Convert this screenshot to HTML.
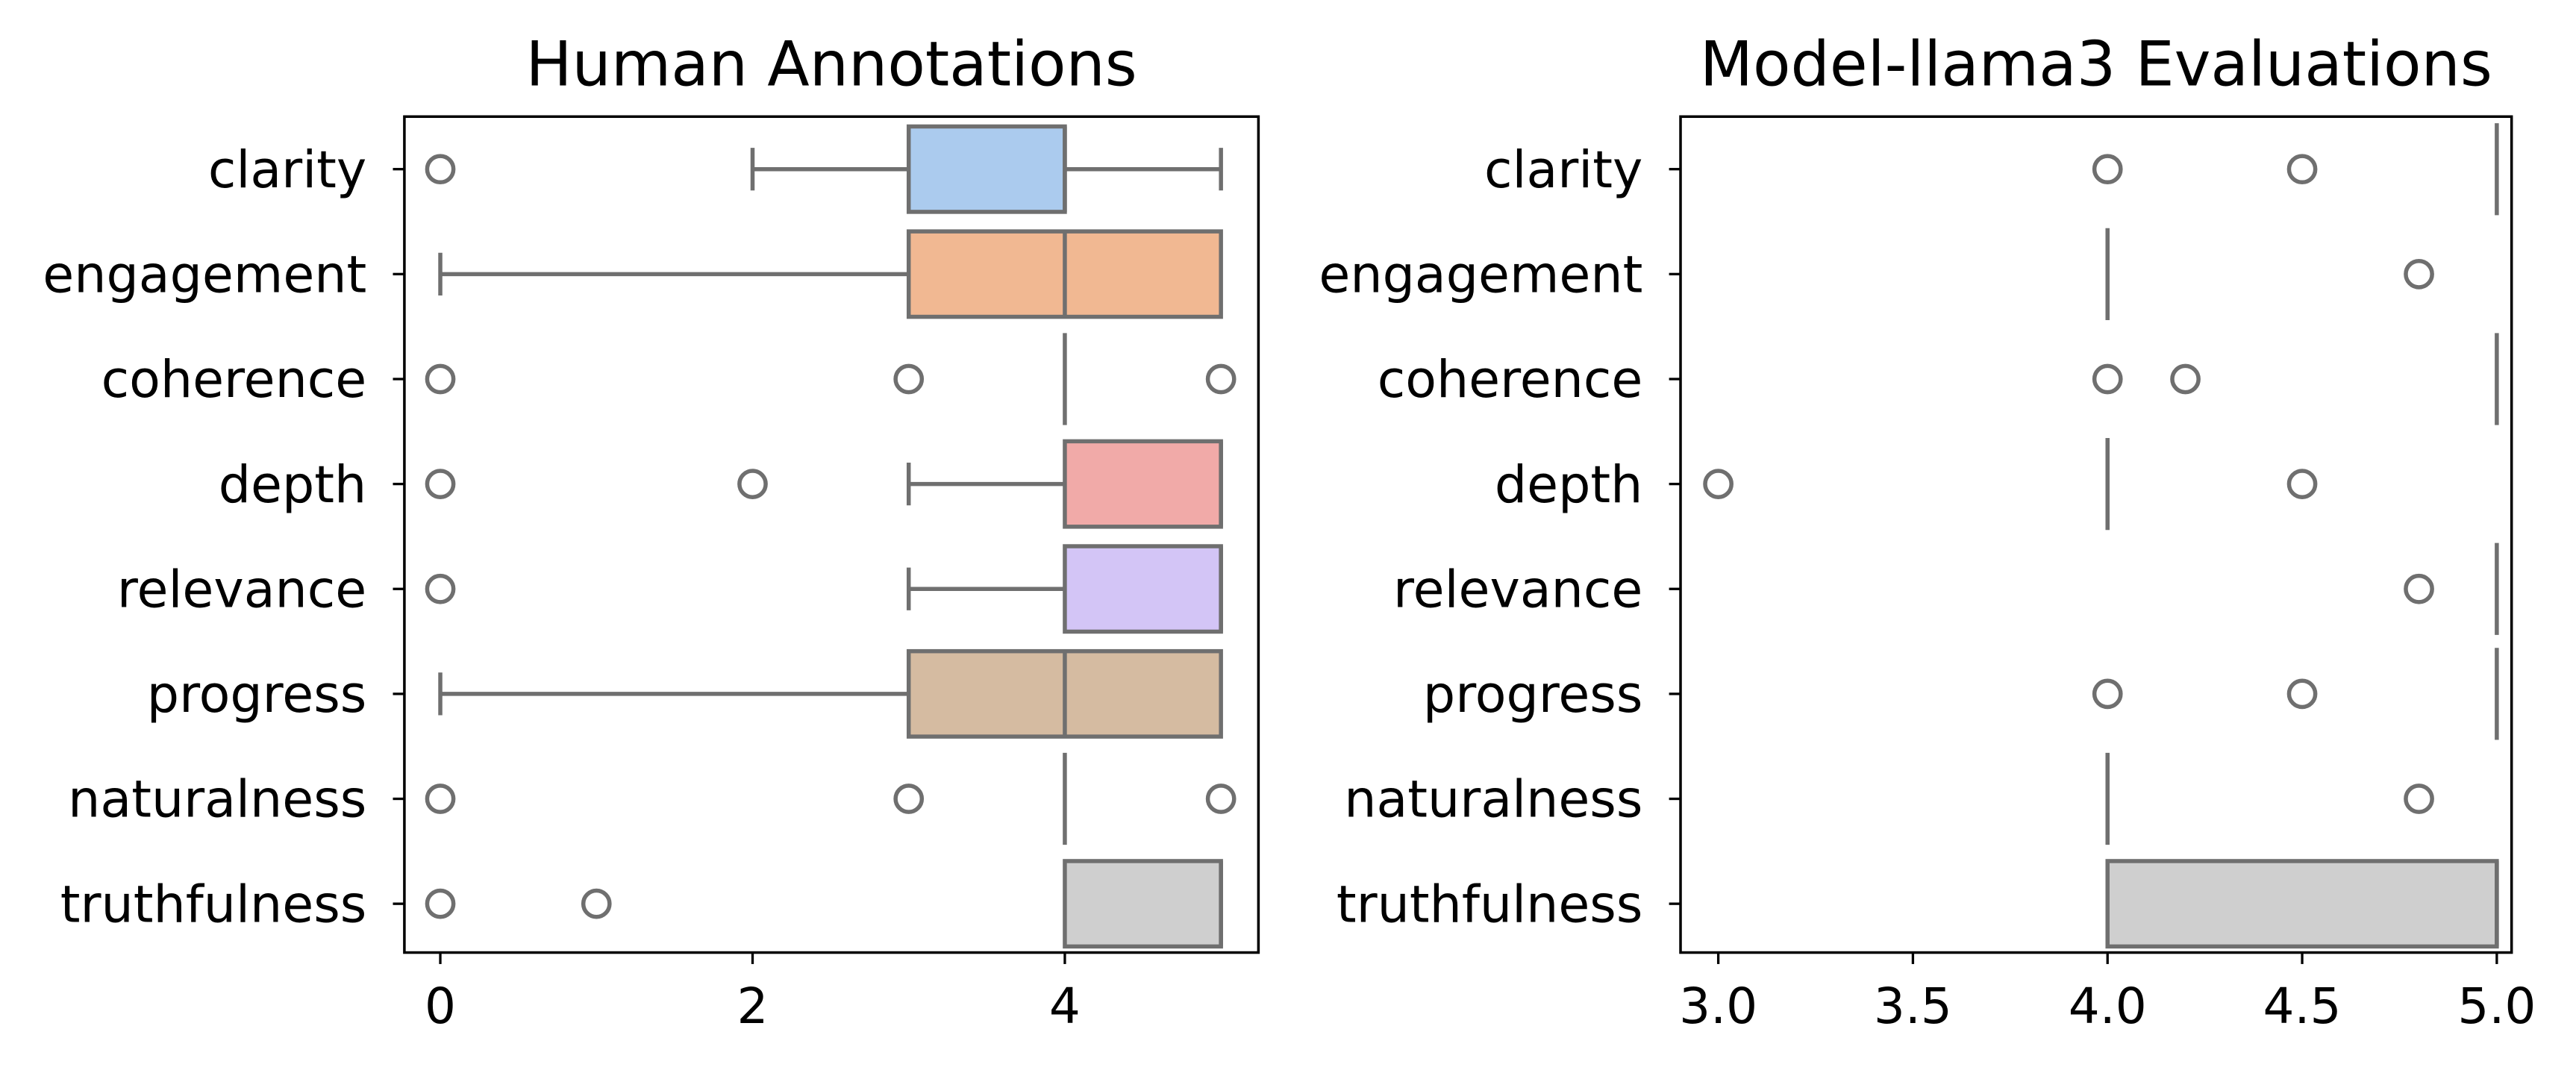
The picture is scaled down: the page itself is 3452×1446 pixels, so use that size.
<!DOCTYPE html>
<html><head><meta charset="utf-8"><style>
html,body{margin:0;padding:0;background:#fff}
svg{display:block}
text{font-family:"DejaVu Sans","Liberation Sans",sans-serif;fill:#000}
</style></head><body>
<svg id="chart" width="3452" height="1446" viewBox="0 0 1568 657" xmlns="http://www.w3.org/2000/svg"></svg>
<script>
const categories = ["clarity","engagement","coherence","depth","relevance","progress","naturalness","truthfulness"];
const colors = ["#abcbee","#f1b892","#9fd9ac","#f1aaa8","#d3c5f6","#d5bba1","#ecb5dc","#cfcfcf"];
// Human annotations
const humanQ1 = [3,3,4,4,4,3,4,4];
const humanQ3 = [4,5,4,5,5,5,4,5];
const humanMed = [4,4,4,5,5,4,4,5];
const humanWLo = [2,0,4,3,3,0,4,4];
const humanWHi = [5,5,4,5,5,5,4,5];
const humanOut = [[0],[],[0,3,5],[0,2],[0],[],[0,3,5],[0,1]];
const humanTicks = [0,2,4];
// Model evaluations
const modelQ1 = [5,4,5,4,5,5,4,4];
const modelQ3 = [5,4,5,4,5,5,4,5];
const modelMed = [5,4,5,4,5,5,4,5];
const modelWLo = [5,4,5,4,5,5,4,4];
const modelWHi = [5,4,5,4,5,5,4,5];
const modelOut = [[4,4.5],[4.8],[4,4.2],[3,4.5],[4.8],[4,4.5],[4.8],[]];
const modelTicks = ["3.0","3.5","4.0","4.5","5.0"];

const NS="http://www.w3.org/2000/svg";
const svg=document.getElementById('chart');
function el(tag,attrs,parent){const e=document.createElementNS(NS,tag);for(const k in attrs)e.setAttribute(k,attrs[k]);(parent||svg).appendChild(e);return e;}
const LC="#6f6f6f";
const SW=2.5;
function panel(name,x0,x1,dmin,dmax,title,q1,q3,med,wlo,whi,outs,ticks){
  const top=71,bot=580;
  const g=el('g',{});
  
  
  const sx=v=>x0+(v-dmin)/(dmax-dmin)*(x1-x0);
  const sy=i=>103+i*63.9;
  const hh=26;
  categories.forEach((c,i)=>{
    const y=sy(i);
    const bg=el('g',{},g);
    
    
    if(wlo[i]<q1[i]){el('line',{x1:sx(wlo[i]),x2:sx(q1[i]),y1:y,y2:y,stroke:LC,'stroke-width':SW},bg);el('line',{x1:sx(wlo[i]),x2:sx(wlo[i]),y1:y-13,y2:y+13,stroke:LC,'stroke-width':SW},bg);}
    if(whi[i]>q3[i]){el('line',{x1:sx(q3[i]),x2:sx(whi[i]),y1:y,y2:y,stroke:LC,'stroke-width':SW},bg);el('line',{x1:sx(whi[i]),x2:sx(whi[i]),y1:y-13,y2:y+13,stroke:LC,'stroke-width':SW},bg);}
    if(q3[i]>q1[i]){
      el('rect',{x:sx(q1[i]),y:y-hh,width:sx(q3[i])-sx(q1[i]),height:2*hh,fill:colors[i],stroke:LC,'stroke-width':SW},bg);
      el('line',{x1:sx(med[i]),x2:sx(med[i]),y1:y-hh,y2:y+hh,stroke:LC,'stroke-width':SW},bg);
    } else {
      el('line',{x1:sx(med[i]),x2:sx(med[i]),y1:y-hh-2,y2:y+hh+2,stroke:LC,'stroke-width':SW},bg);
    }
    outs[i].forEach(v=>{const o=el('circle',{cx:sx(v),cy:y,r:8,fill:'none',stroke:LC,'stroke-width':SW},bg);
      
      });
    el('line',{x1:x0-7,x2:x0,y1:y,y2:y,stroke:'#000','stroke-width':1.5},g);
    const t=el('text',{x:x0-23,y:y+11,'text-anchor':'end','font-size':31},g);t.textContent=c;
    
    
  });
  ticks.forEach(tk=>{const v=parseFloat(tk);const x=sx(v);
    el('line',{x1:x,x2:x,y1:bot,y2:bot+7,stroke:'#000','stroke-width':1.5},g);
    const t=el('text',{x:x,y:bot+43,'text-anchor':'middle','font-size':30},g);t.textContent=tk;
    
    
  });
  const f=el('rect',{x:x0,y:top,width:x1-x0,height:bot-top,fill:'none',stroke:'#000','stroke-width':1.6},g);
  
  
  const tt=el('text',{x:(x0+x1)/2,y:52,'text-anchor':'middle','font-size':37.5},g);tt.textContent=title;
  
  
}
panel('human-annotations-panel',246,766,-0.23,5.24,'Human Annotations',humanQ1,humanQ3,humanMed,humanWLo,humanWHi,humanOut,humanTicks.map(String));
panel('model-llama3-panel',1023,1529,2.903,5.038,'Model-llama3 Evaluations',modelQ1,modelQ3,modelMed,modelWLo,modelWHi,modelOut,modelTicks);
</script>
</body></html>
